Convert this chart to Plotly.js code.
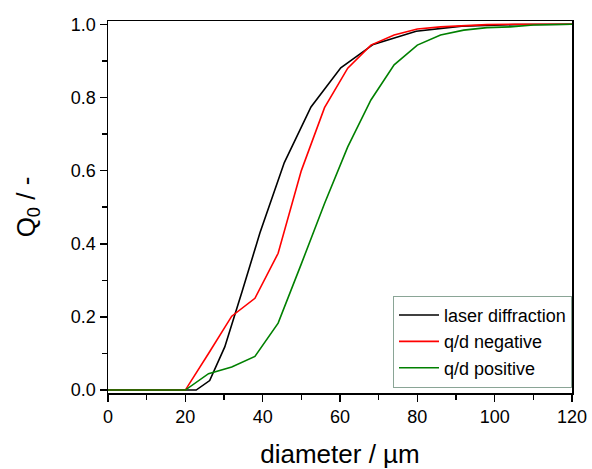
<!DOCTYPE html>
<html>
<head>
<meta charset="utf-8">
<script src="https://cdn.plot.ly/plotly-3.0.1.min.js"></script>
<style>html,body{margin:0;padding:0;background:#fff;}#chart{width:592px;height:469px;}</style>
</head>
<body>
<div id="chart"></div>
<script>
// Laser diffraction
const laserX = [0, 22.8, 26.3, 30.2, 34.7, 39.3, 45.6, 52.5, 60.2, 68.6, 79.7, 91.5, 105, 120];
const laserY = [0, 0, 0.026, 0.118, 0.27, 0.43, 0.622, 0.774, 0.881, 0.945, 0.981, 0.995, 0.999, 1.0];
// q/d negative
const negX = [0, 20, 26, 32, 38, 44, 50, 56, 62, 68, 74, 80, 86, 92, 98, 104, 110, 116, 120];
const negY = [0, 0, 0.10, 0.202, 0.251, 0.374, 0.60, 0.772, 0.880, 0.943, 0.971, 0.987, 0.993, 0.997, 0.999, 1.0, 1.0, 1.0, 1.0];
// q/d positive
const posX = [0, 20, 26, 32, 38, 44, 50, 56, 62, 68, 74, 80, 86, 92, 98, 104, 110, 116, 120];
const posY = [0, 0, 0.045, 0.063, 0.092, 0.183, 0.345, 0.51, 0.665, 0.793, 0.889, 0.943, 0.971, 0.984, 0.991, 0.993, 0.998, 1.0, 1.0];

const seriesNames = ["laser diffraction", "q/d negative", "q/d positive"];
const seriesColors = ["#000000", "#ff0000", "#008000"];

const traces = [
  {x: laserX, y: laserY, name: seriesNames[0], mode: "lines", line: {color: seriesColors[0], width: 1.6}},
  {x: negX, y: negY, name: seriesNames[1], mode: "lines", line: {color: seriesColors[1], width: 1.6}},
  {x: posX, y: posY, name: seriesNames[2], mode: "lines", line: {color: seriesColors[2], width: 1.6}}
];

const fontFam = "Liberation Sans, Arial, sans-serif";
const layout = {
  width: 592, height: 469,
  margin: {l: 108, r: 20, t: 21, b: 76},
  paper_bgcolor: "#fff", plot_bgcolor: "#fff",
  font: {family: fontFam, color: "#000", size: 18},
  showlegend: true,
  legend: {
    x: 1, y: 0.014, xanchor: "right", yanchor: "bottom",
    bgcolor: "#fff", bordercolor: "#8aa596", borderwidth: 1,
    font: {family: fontFam, size: 18, color: "#000"},
    itemwidth: 40,
    tracegroupgap: 0
  },
  xaxis: {
    range: [0, 120], tick0: 0, dtick: 20,
    ticks: "outside", ticklen: 7, tickwidth: 1.5, tickcolor: "#000",
    minor: {dtick: 10, ticks: "outside", ticklen: 5, tickwidth: 1.5, tickcolor: "#000"},
    showline: true, linecolor: "#000", linewidth: 1.5, mirror: true,
    showgrid: false, zeroline: false,
    tickfont: {family: fontFam, size: 18, color: "#000"},
    title: {text: "diameter / µm", font: {family: fontFam, size: 26, color: "#000"}, standoff: 20},
    automargin: false
  },
  yaxis: {
    range: [-0.008, 1.009], tick0: 0, dtick: 0.2, tickformat: ".1f",
    ticks: "outside", ticklen: 7, tickwidth: 1.5, tickcolor: "#000",
    minor: {dtick: 0.1, ticks: "outside", ticklen: 5, tickwidth: 1.5, tickcolor: "#000"},
    showline: true, linecolor: "#000", linewidth: 1.5, mirror: true,
    showgrid: false, zeroline: false,
    tickfont: {family: fontFam, size: 18, color: "#000"},
    title: {text: "Q<sub>0</sub> / -", font: {family: fontFam, size: 26, color: "#000"}, standoff: 28},
    automargin: false
  }
};

Plotly.newPlot("chart", traces, layout, {displayModeBar: false, staticPlot: true});
</script>
</body>
</html>
